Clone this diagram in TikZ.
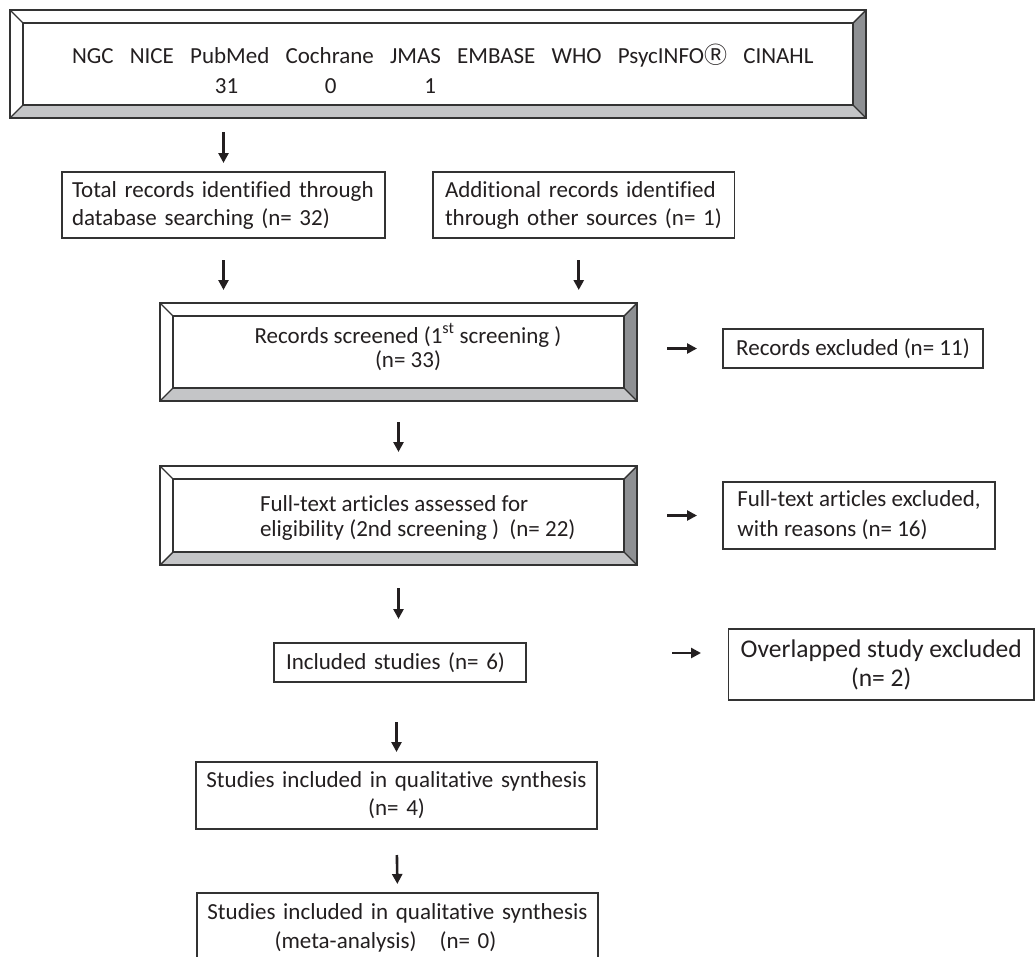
\documentclass[tikz,border=0pt]{standalone}
\usepackage{fontspec}
\setmainfont{Carlito}[Ligatures=NoCommon]
\newfontfamily\cjkfont{Noto Sans CJK JP}
\usetikzlibrary{arrows.meta,calc}

\definecolor{edge}{HTML}{333333}
\definecolor{darkface}{HTML}{8E9093}
\definecolor{lightface}{HTML}{C4C5C7}
\definecolor{ink}{HTML}{231F20}

\newcommand{\drawbevel}[2]{%
  \fill[darkface] (#1.north east) -- (#1.south east) -- ([shift={(-#2,-#2)}]#1.south east) -- ([shift={(-#2,#2)}]#1.north east) -- cycle;
  \fill[lightface] (#1.south west) -- (#1.south east) -- ([shift={(-#2,-#2)}]#1.south east) -- ([shift={(#2,-#2)}]#1.south west) -- cycle;
  \draw[bevelline] (#1.north west) rectangle (#1.south east);
  \draw[bevelline] ([shift={(#2,#2)}]#1.north west) rectangle ([shift={(-#2,-#2)}]#1.south east);
  \draw[bevelline] (#1.north west) -- ([shift={(#2,#2)}]#1.north west)
    (#1.north east) -- ([shift={(-#2,#2)}]#1.north east)
    (#1.south west) -- ([shift={(#2,-#2)}]#1.south west)
    (#1.south east) -- ([shift={(-#2,-#2)}]#1.south east);
}

\begin{document}
\begin{tikzpicture}[x=1pt,y=-1pt,
  every node/.style={font=\fontsize{23pt}{28pt}\selectfont, text=ink},
  txt/.style={inner sep=0pt, outer sep=0pt},
  frame/.style={draw=edge, line width=1.4pt, fill=white, outer sep=0pt, inner ysep=0pt},
  bevbox/.style={draw=none, outer sep=0pt, inner sep=0pt},
  bevelline/.style={draw=edge, line width=1.4pt},
  arr/.style={line width=2.6pt, draw=ink, -{Triangle[length=10pt,width=10pt]}}
]
\useasboundingbox[fill=white] (0,0) rectangle (1036,956);

% top database box
\node[bevbox, minimum width=856pt, minimum height=108pt] (top) at (438,64) {};
\drawbevel{top}{13}
\node[txt, anchor=base west] (w1) at (72,63.5) {NGC};
\node[txt, anchor=base west] (w2) at ([xshift=16.2pt]w1.base east) {NICE};
\node[txt, anchor=base west] (w3) at ([xshift=16.2pt]w2.base east) {PubMed};
\node[txt, anchor=base west] (w4) at ([xshift=16.2pt]w3.base east) {Cochrane};
\node[txt, anchor=base west] (w5) at ([xshift=16.2pt]w4.base east) {JMAS};
\node[txt, anchor=base west] (w6) at ([xshift=16.2pt]w5.base east) {EMBASE};
\node[txt, anchor=base west] (w7) at ([xshift=16.2pt]w6.base east) {WHO};
\node[txt, anchor=base west] (w8) at ([xshift=16.2pt]w7.base east) {PsycINFO{\cjkfont Ⓡ}};
\node[txt, anchor=base west] (w9) at ([xshift=16.2pt]w8.base east) {CINAHL};
\node[txt, anchor=base] (n1) at ($(w3.base west)!0.46!(w3.base east)+(0,29.5)$) {31};
\node[txt, anchor=base] (n2) at ($(w4.base west)!0.51!(w4.base east)+(0,29.5)$) {0};
\node[txt, anchor=base] (n3) at ($(w5.base west)!0.79!(w5.base east)+(0,29.5)$) {1};

% identification
\node[frame, inner xsep=10pt, text width=303pt, align=left, minimum height=66pt] (tot) at (223.5,205)
  {Total records identified through\\database searching (n= 32)};
\node[frame, inner xsep=12pt, text width=277.5pt, align=left, minimum height=66pt] (add) at (583.75,205)
  {Additional records identified\\through other sources (n= 1)};

% screening
\node[bevbox, minimum width=477pt, minimum height=98pt] (scr) at (398.5,352) {};
\drawbevel{scr}{13}
\node[txt, align=center] (scrt) at (408,347) {Records screened (1\textsuperscript{st} screening )\\[-4pt](n= 33)};

\node[frame, inner xsep=0pt, align=left, minimum width=260pt, minimum height=39pt] (rexc) at (853,348.5)
  {Records excluded (n= 11)};

% eligibility
\node[bevbox, minimum width=477pt, minimum height=99pt] (full) at (398.5,515.5) {};
\drawbevel{full}{13}
\node[txt, align=left, anchor=west] (fullt) at (260,517.5) {Full-text articles assessed for\\[-3pt]eligibility (2nd screening )\ \ (n= 22)};

\node[frame, inner xsep=0pt, align=left, minimum width=272pt, minimum height=67pt] (fexc) at (859,515.5)
  {Full-text articles excluded,\\[2pt]with reasons (n= 16)};

% included
\node[frame, inner xsep=12pt, text width=228pt, align=left, minimum height=39pt] (inc) at (400,662.5)
  {Included studies (n= 6)};
\node[frame, font=\fontsize{25.5pt}{29pt}\selectfont, inner xsep=0pt, align=center, minimum width=305.5pt, minimum height=71pt] (ovl) at (881.25,664.5)
  {Overlapped study excluded\\(n= 2)};

\node[frame, inner xsep=4pt, text width=393pt, align=center, minimum height=67pt] (s1) at (396.5,795.5)
  {Studies included in qualitative synthesis\\(n= 4)};

\node[draw=none, inner xsep=4pt, inner ysep=0pt, outer sep=0pt, text width=393pt, align=center, minimum height=69pt] (s2) at (397.5,927.5)
  {Studies included in qualitative synthesis\\[1pt](meta-analysis)\ \ \ (n= 0)\hspace*{24pt}};
\draw[draw=edge, line width=1.4pt] (s2.south west) -- (s2.north west) -- (s2.north east) -- (s2.south east);

% connectors
\draw[arr, shorten <=14pt, shorten >=9pt] (tot.north |- top.south) -- (tot.north);
\draw[arr, shorten <=22pt, shorten >=13pt] (tot.south) -- (tot.south |- scr.north);
\draw[arr, shorten <=22pt, shorten >=13pt] ([xshift=-5pt]add.south) -- ([xshift=-5pt]add.south |- scr.north);
\draw[arr, shorten <=21pt, shorten >=14pt] (scr.south) -- (full.north);
\draw[arr, shorten <=30pt, shorten >=26pt] (scr.east |- rexc.west) -- (rexc.west);
\draw[arr, shorten <=30pt, shorten >=26pt] (full.east) -- (full.east -| fexc.west);
\draw[arr, shorten <=23pt, shorten >=24pt] (full.south) -- (full.south |- inc.north);
\draw[arr, shorten <=146pt, shorten >=27.5pt] ([yshift=9.5pt]inc.east) -- ([yshift=9.5pt]inc.east -| ovl.west);
\draw[arr, shorten <=40pt, shorten >=10pt] (s1.north |- inc.south) -- (s1.north);
\draw[arr, shorten <=26pt, shorten >=9pt] (s1.south) -- (s2.north);
\end{tikzpicture}
\end{document}
